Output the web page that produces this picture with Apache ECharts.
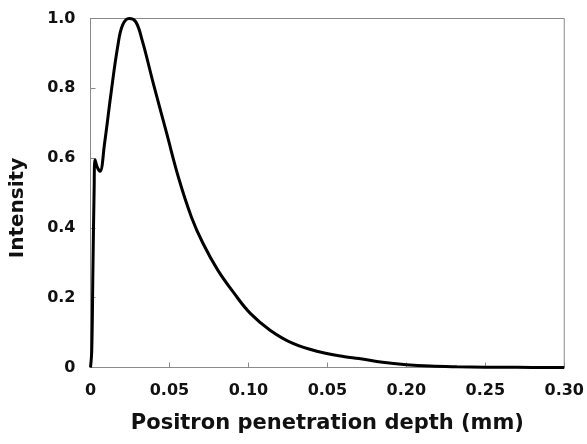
<!DOCTYPE html>
<html>
<head>
<meta charset="utf-8">
<script src="https://cdn.jsdelivr.net/npm/echarts@6/dist/echarts.min.js"></script>
<style>
  html, body { margin: 0; padding: 0; background: #fff; }
  #chart { width: 587px; height: 444px; }
</style>
</head>
<body>
<div id="chart"></div>
<script>
// depth (mm) and normalised intensity
const depth = [0, 0.0008, 0.0015, 0.0023, 0.0029, 0.0042, 0.006, 0.0089, 0.013, 0.0172,
  0.0203, 0.0245, 0.0286, 0.0327, 0.04, 0.048, 0.056, 0.064, 0.0712, 0.0806,
  0.0909, 0.1012, 0.1137, 0.1282, 0.1447, 0.161, 0.17, 0.185, 0.2, 0.215,
  0.232, 0.25, 0.27, 0.30]
const intensity = [0, 0.05, 0.27, 0.51, 0.595, 0.575, 0.562, 0.642, 0.786, 0.919,
  0.981, 1.0, 0.991, 0.938, 0.81, 0.675, 0.54, 0.43, 0.356, 0.279,
  0.213, 0.155, 0.107, 0.069, 0.045, 0.031, 0.026, 0.015, 0.008, 0.004,
  0.002, 0.001, 0.0005, 0]

// tick labels as printed (the fourth one really says 0.05)
const xTickLabels = ['0', '0.05', '0.10', '0.05', '0.20', '0.25', '0.30']
const yTickLabels = ['0', '0.2', '0.4', '0.6', '0.8', '1.0']

const font = 'DejaVu Sans'
const axisGrey = '#8a8a8a'

const chart = echarts.init(document.getElementById('chart'), null, { renderer: 'canvas' })

const option = {
  animation: false,
  grid: {
    left: 90.5, right: 14, top: 18.5, bottom: 76.5,
    show: true, borderColor: axisGrey, borderWidth: 1
  },
  xAxis: {
    type: 'value',
    min: 0, max: 0.3, interval: 0.05,
    name: 'Positron penetration depth (mm)',
    nameLocation: 'middle',
    nameGap: 46,
    nameTextStyle: { fontFamily: font, fontWeight: 'bold', fontSize: 21, color: '#111' },
    axisLine: { lineStyle: { color: axisGrey, width: 1 } },
    axisTick: { inside: true, length: 5, lineStyle: { color: axisGrey } },
    splitLine: { show: false },
    axisLabel: {
      margin: 15,
      fontFamily: font, fontWeight: 'bold', fontSize: 16, color: '#111',
      formatter: v => xTickLabels[Math.round(v / 0.05)]
    }
  },
  yAxis: {
    type: 'value',
    min: 0, max: 1, interval: 0.2,
    axisLine: { show: true, lineStyle: { color: axisGrey, width: 1 } },
    axisTick: { show: true, inside: true, length: 5, lineStyle: { color: axisGrey } },
    splitLine: { show: false },
    axisLabel: {
      margin: 15,
      fontFamily: font, fontWeight: 'bold', fontSize: 16, color: '#111',
      formatter: v => yTickLabels[Math.round(v / 0.2)]
    }
  },
  graphic: [{
    type: 'text',
    x: 18, y: 208,
    rotation: Math.PI / 2,
    style: {
      text: 'Intensity',
      fontFamily: font, fontWeight: 'bold', fontSize: 20, fill: '#111',
      align: 'center', verticalAlign: 'middle'
    }
  }],
  series: [{
    type: 'line',
    data: depth.map((d, i) => [d, intensity[i]]),
    showSymbol: false,
    smooth: 0.4,
    lineStyle: { color: '#000', width: 3 }
  }]
}
chart.setOption(option)
</script>
</body>
</html>
